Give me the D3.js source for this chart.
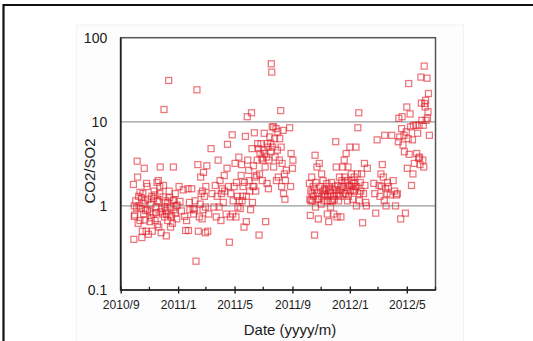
<!DOCTYPE html>
<html><head><meta charset="utf-8">
<script src="https://cdn.jsdelivr.net/npm/d3@7"></script>
<style>html,body{margin:0;padding:0;background:#fff;}svg{display:block;}</style>
</head><body>
<script>
// ---- data ----
const dates = [
"2010-09-28","2010-09-29","2010-09-30","2010-09-30","2010-10-03","2010-10-06","2010-10-07","2010-10-09","2010-10-10","2010-10-12",
"2010-10-14","2010-10-16","2010-10-17","2010-10-18","2010-10-21","2010-10-20","2010-10-23","2010-10-25","2010-10-26","2010-10-27",
"2010-10-28","2010-10-30","2010-11-02","2010-11-04","2010-11-06","2010-11-07","2010-11-09","2010-11-11","2010-11-13","2010-11-15",
"2010-11-17","2010-11-18","2010-11-20","2010-11-21","2010-11-23","2010-11-24","2010-11-25","2010-11-26","2010-11-29","2010-12-02",
"2010-12-01","2010-12-04","2010-12-05","2010-12-07","2010-12-08","2010-12-10","2010-12-12","2010-12-13","2010-12-15","2010-12-16",
"2010-12-18","2010-12-21","2010-12-22","2010-12-23","2010-12-26","2010-12-28","2010-12-29","2011-01-03","2011-01-05","2011-01-08",
"2011-01-12","2011-01-17","2011-01-19","2011-01-22","2011-01-23","2011-01-26","2011-01-30","2011-02-03","2011-02-05","2011-02-08",
"2011-02-10","2011-02-12","2011-02-13","2011-02-15","2011-02-18","2011-02-19","2011-02-21","2011-02-22","2011-02-24","2011-02-26",
"2011-02-28","2011-03-01","2011-03-03","2011-03-05","2011-03-07","2011-03-12","2011-03-14","2011-03-18","2011-03-21","2011-03-23",
"2011-03-25","2011-03-27","2011-03-29","2011-03-31","2011-04-02","2011-04-03","2011-04-05","2011-04-07","2011-04-09","2011-04-10",
"2011-04-13","2011-04-15","2011-04-16","2011-04-18","2011-04-20","2011-04-22","2011-04-23","2011-04-26","2011-04-27","2011-04-28",
"2011-04-30","2011-05-02","2011-05-04","2011-05-05","2011-05-07","2011-05-10","2011-05-11","2011-05-13","2011-05-15","2011-05-16",
"2011-05-18","2011-05-21","2011-05-22","2011-05-24","2011-05-26","2011-05-28","2011-05-29","2011-05-31","2011-06-02","2011-06-04",
"2011-06-06","2011-06-07","2011-06-08","2011-06-10","2011-06-11","2011-06-12","2011-06-13","2011-06-15","2011-06-17","2011-06-19",
"2011-06-21","2011-06-22","2011-06-24","2011-06-26","2011-06-28","2011-06-29","2011-07-01","2011-07-03","2011-07-05","2011-07-06",
"2011-07-08","2011-07-09","2011-07-10","2011-07-12","2011-07-13","2011-07-15","2011-07-17","2011-07-18","2011-07-19","2011-07-20",
"2011-07-21","2011-07-23","2011-07-23","2011-07-25","2011-07-26","2011-07-28","2011-07-29","2011-07-31","2011-08-01","2011-08-02",
"2011-08-04","2011-08-05","2011-08-07","2011-08-08","2011-08-09","2011-08-10","2011-08-12","2011-08-13","2011-08-15","2011-08-16",
"2011-08-17","2011-08-19","2011-08-26","2011-08-28","2011-08-29","2011-09-01","2011-09-02","2011-10-07","2011-10-08","2011-10-09",
"2011-10-10","2011-10-12","2011-10-13","2011-10-15","2011-10-16","2011-10-18","2011-10-19","2011-10-20","2011-10-21","2011-10-23",
"2011-10-24","2011-10-26","2011-10-27","2011-10-28","2011-10-30","2011-11-01","2011-11-02","2011-11-04","2011-11-05","2011-11-07",
"2011-11-08","2011-11-10","2011-11-13","2011-11-14","2011-11-15","2011-11-17","2011-11-18","2011-11-20","2011-11-21","2011-11-23",
"2011-11-25","2011-11-27","2011-11-28","2011-11-30","2011-12-02","2011-12-03","2011-12-04","2011-12-05","2011-12-07","2011-12-08",
"2011-12-10","2011-12-11","2011-12-13","2011-12-15","2011-12-17","2011-12-18","2011-12-20","2011-12-21","2011-12-23","2011-12-24",
"2011-12-26","2011-12-27","2011-12-28","2011-12-30","2012-01-01","2012-01-02","2012-01-04","2012-01-05","2012-01-07","2012-01-08",
"2012-01-10","2012-01-11","2012-01-13","2012-01-14","2012-01-15","2012-01-17","2012-01-18","2012-01-20","2012-01-21","2012-01-23",
"2012-01-24","2012-01-26","2012-01-28","2012-01-30","2012-02-01","2012-02-02","2012-02-04","2012-02-05","2012-02-07","2012-02-21",
"2012-02-23","2012-02-25","2012-02-28","2012-03-03","2012-03-05","2012-03-07","2012-03-08","2012-03-10","2012-03-12","2012-03-14",
"2012-03-15","2012-03-17","2012-03-18","2012-03-20","2012-03-21","2012-03-23","2012-03-27","2012-03-30","2012-04-02","2012-04-05",
"2012-04-07","2012-04-09","2012-04-11","2012-04-13","2012-04-14","2012-04-16","2012-04-18","2012-04-20","2012-04-21","2012-04-23",
"2012-04-25","2012-04-26","2012-04-28","2012-04-30","2012-05-01","2012-05-02","2012-05-04","2012-05-05","2012-05-06","2012-05-08",
"2012-05-09","2012-05-11","2012-05-13","2012-05-14","2012-05-15","2012-05-17","2012-05-20","2012-05-22","2012-05-24","2012-05-26",
"2012-05-27","2012-05-28","2012-05-29","2012-05-31","2012-06-01","2012-06-02","2012-06-04","2012-06-05","2012-06-06","2012-06-07",
"2012-06-08","2012-06-09","2012-06-10","2012-06-11","2012-06-13","2012-06-14","2012-06-15","2012-06-16","2012-06-18",
"2010-10-01","2010-10-05","2010-10-08","2010-10-12","2010-10-15","2010-10-19","2010-10-22","2010-10-24","2010-10-29","2010-11-02",
"2010-11-05","2010-11-10","2010-11-13","2010-11-15","2010-11-18","2010-11-21","2010-11-23","2010-11-27","2010-11-30","2010-12-03",
"2010-12-06","2010-12-10","2010-12-14","2010-12-17","2010-12-20","2010-12-23","2010-12-26","2010-12-30","2011-01-15","2011-01-25",
"2011-02-02","2011-02-06","2011-02-17","2011-02-23","2011-02-28","2011-05-08","2011-05-17","2011-05-19","2011-05-26","2011-06-01",
"2011-06-09","2011-06-18","2011-06-23","2011-06-30","2011-07-04","2011-07-11","2011-07-17","2011-10-10","2011-10-13","2011-10-18",
"2011-10-25","2011-11-02","2011-11-08","2011-11-11","2011-11-15","2011-11-18","2011-11-22","2011-11-26","2011-11-29","2011-12-03",
"2011-12-08","2011-12-12","2011-12-15","2011-12-19","2011-12-22","2011-12-26","2011-12-29","2012-01-05","2012-01-08","2012-01-12",
"2012-01-16","2012-01-21"
];
const ratios = [
1.8,0.4,1.0,0.75,1.15,3.4,2.2,1.3,1.0,0.67,
0.93,0.42,0.5,1.4,2.8,0.8,1.15,0.5,1.85,1.7,
0.9,0.46,0.65,1.05,1.3,0.5,0.8,1.5,0.67,0.97,
1.9,1.15,2.0,0.56,1.7,2.9,0.85,0.48,0.8,14,
1.75,0.97,1.15,0.44,0.8,0.67,31,1.5,0.97,0.56,
0.74,1.15,2.9,0.9,1.4,1.0,0.7,1.7,1.13,0.87,
1.55,0.51,0.67,1.6,0.51,0.9,1.6,0.8,0.9,0.22,
24,3.1,0.5,0.74,2.2,1.4,0.7,1.5,2.5,1.3,
0.48,1.7,3.0,0.5,0.8,4.8,1.4,0.97,1.75,0.74,
1.3,3.5,0.97,2.0,0.67,1.4,1.6,1.1,2.3,1.5,
0.8,2.8,5.4,1.7,0.37,0.74,1.4,7,0.8,1.15,
1.7,3.2,0.74,1.9,1.3,3.8,1.15,0.93,2.3,3.1,
1.3,0.56,1.9,6.7,0.65,11.5,3.5,2.65,1.5,0.9,
12.8,4.8,1.1,3.0,1.7,7.4,2.2,1.5,2.3,5.5,
4.8,0.45,4.2,5.5,3.7,2.0,4.6,7.3,2.9,0.65,
3.8,1.85,5.5,1.6,3.5,6.6,4.4,49,39,8.7,
5.0,2.9,8.7,6.3,3.8,8.3,2.0,4.6,7.6,2.2,
3.5,6.3,13.6,5.0,1.7,3.2,7.9,1.4,2.4,1.2,
2.0,2.65,8.5,1.7,4.2,2.8,3.5,1.85,1.2,0.77,
1.5,2.2,1.15,1.7,1.3,0.45,4.0,0.97,1.9,2.9,
1.4,0.7,1.2,3.2,1.7,1.05,2.4,1.5,2.0,1.15,
1.6,1.35,1.85,0.8,1.15,0.65,1.7,1.4,0.97,1.9,
1.15,1.3,0.8,1.7,5.8,2.9,1.4,0.74,1.75,1.15,
2.2,1.55,0.74,2.0,2.9,1.7,3.5,2.2,1.4,4.2,
2.0,1.15,2.9,1.75,5.0,1.5,2.4,2.0,1.2,1.85,
2.2,1.5,1.7,5.0,1.0,2.4,8.5,12.8,1.15,1.9,
1.5,2.4,0.63,1.4,3.2,1.75,1.1,1.0,2.8,1.85,
1.4,0.82,6.1,1.75,1.3,2.4,1.7,3.1,2.2,1.15,
6.9,1.6,1.0,1.4,1.9,1.7,1.35,6.9,2.0,1.5,
1.0,1.35,1.4,5.8,11,6.6,0.7,8.3,11.5,5.3,
6.9,4.4,0.82,7.6,15,2.8,6.3,28.5,4.1,12.4,
8.7,1.75,6.1,2.4,9,3.2,9.1,4.2,7.3,3.7,
9.1,3.8,3.1,34,16.7,10.4,3.5,9.1,2.9,46,
16.5,15,18,10.4,33,11,13.2,21.7,6.9,
0.78,0.95,0.62,1.45,1.25,1.08,0.68,0.88,1.2,0.85,
0.72,1.22,1.35,0.83,0.6,1.12,1.4,0.92,1.28,0.74,
0.88,1.1,1.25,0.78,0.62,1.18,0.82,1.02,0.75,1.1,
0.93,1.15,1.05,0.9,0.97,0.97,1.15,1.7,1.3,2.0,
1.7,3.5,2.4,3.5,4.2,5.0,5.5,1.15,1.4,1.55,
1.2,1.3,1.4,1.55,1.3,1.5,1.15,1.55,1.2,1.55,
1.35,1.3,1.7,1.4,1.9,1.55,1.3,1.7,1.55,1.9,
1.7,1.4
];
const xDomain = ["2010-09-01","2012-07-01"];
const yDomain = [0.1, 100];
const yTicks = [0.1, 1, 10, 100];
const yGrid = [1, 10];
const xLabelMonths = [1, 5, 9];   // months that carry labels
const xTitle = "Date (yyyy/m)";
const yTitle = "CO2/SO2";

// ---- drawing ----
const W = 533, H = 341;
const L = 120.7, R = 435.5, T = 37.7, B = 290;
const parse = d3.timeParse("%Y-%m-%d");
const svg = d3.select("body").append("svg").attr("width", W).attr("height", H);
const font = "Arial, 'Liberation Sans', Helvetica, sans-serif";

// outer frame
svg.append("rect").attr("x",76.5).attr("y",25).attr("width",387).attr("height",330)
  .attr("fill","#fdfdfd").attr("stroke","#f2f2f2");
svg.append("line").attr("x1",3.5).attr("x2",W).attr("y1",5).attr("y2",5).attr("stroke","#111").attr("stroke-width",2.2);
svg.append("line").attr("x1",3.5).attr("x2",3.5).attr("y1",4).attr("y2",H).attr("stroke","#111").attr("stroke-width",2.2);

const x = d3.scaleTime().domain(xDomain.map(parse)).range([L, R]);
const y = d3.scaleLog().domain(yDomain).range([B, T]);

svg.append("rect").attr("x",L).attr("y",T).attr("width",R-L).attr("height",B-T).attr("fill","#fff");

// gridlines
svg.append("g").selectAll("line").data(yGrid).join("line")
  .attr("x1",L).attr("x2",R).attr("y1",d=>y(d)).attr("y2",d=>y(d))
  .attr("stroke","#9a9a9a").attr("stroke-width",1.3);

// points
const n = Math.min(dates.length, ratios.length);
const pts = d3.range(n).map(i => ({d: parse(dates[i]), v: ratios[i]}));
svg.append("g").selectAll("rect").data(pts).join("rect")
  .attr("x", p => x(p.d) - 3).attr("y", p => y(p.v) - 3)
  .attr("width", 6).attr("height", 6)
  .attr("fill","none").attr("stroke","#e0202c").attr("stroke-opacity",0.62).attr("stroke-width",1.25);

// frame
svg.append("rect").attr("x",L).attr("y",T).attr("width",R-L).attr("height",B-T)
  .attr("fill","none").attr("stroke","#555").attr("stroke-width",1.5);
svg.append("path").attr("d",`M${L},${T}V${B}H${R}`).attr("fill","none").attr("stroke","#222").attr("stroke-width",1.7);

// x axis
const months = d3.timeMonth.every(2).range(x.domain()[0], d3.timeDay.offset(x.domain()[1],1));
const major = months.filter(m => xLabelMonths.includes(m.getMonth()+1));
const minor = months.filter(m => !xLabelMonths.includes(m.getMonth()+1));
const xAxis = d3.axisBottom(x).tickValues(major).tickFormat(d3.timeFormat("%Y/%-m"))
  .tickSizeInner(3.5).tickSizeOuter(0).tickPadding(7);
const gx = svg.append("g").attr("transform",`translate(0,${B})`).call(xAxis);
gx.select(".domain").remove();
gx.selectAll(".tick line").attr("y1",-3.5).attr("y2",3.5).attr("stroke","#222").attr("stroke-width",1.4);
gx.selectAll(".tick text").attr("font-family",font).attr("font-size",12).attr("fill","#1a1a1a");
svg.append("g").selectAll("line").data(minor).join("line")
  .attr("x1",d=>x(d)).attr("x2",d=>x(d)).attr("y1",B-3.2).attr("y2",B)
  .attr("stroke","#222").attr("stroke-width",1.3);

// y axis
const yAxis = d3.axisLeft(y).tickValues(yTicks).tickFormat(d => String(d)).tickSize(0).tickPadding(13.5);
const gy = svg.append("g").attr("transform",`translate(${L},0)`).call(yAxis);
gy.select(".domain").remove();
gy.selectAll(".tick text").attr("font-family",font).attr("font-size",14).attr("fill","#1a1a1a");

// titles
svg.append("text").attr("x",290).attr("y",334.5).attr("text-anchor","middle")
  .attr("font-family",font).attr("font-size",15).attr("fill","#1a1a1a").text(xTitle);
svg.append("text").attr("transform","translate(89,171) rotate(-90)").attr("text-anchor","middle")
  .attr("dominant-baseline","central")
  .attr("font-family",font).attr("font-size",15).attr("fill","#1a1a1a").text(yTitle);
</script>
</body></html>
